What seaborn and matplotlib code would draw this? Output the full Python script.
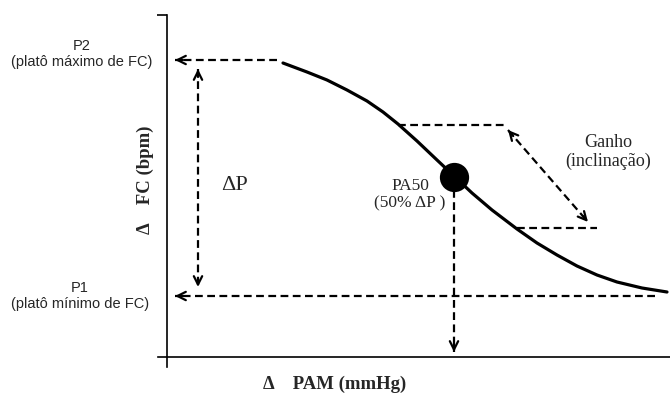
import matplotlib.pyplot as plt
import seaborn as sns

# baroreflex curve, arbitrary units (origin at the axes crossing)
pam = [116, 140, 160, 180, 200, 216, 231, 250, 270, 287, 305, 325, 350,
       370, 390, 410, 430, 450, 475, 500]
fc = [294, 285, 277, 267, 256, 245, 233, 216, 197, 181, 164, 147, 128,
      114, 102, 91, 82, 75, 69, 65]

p2_level = 297   # platô máximo
p1_level = 61    # platô mínimo
pa50 = (287, 180)

# ganho: top and bottom points of the slope
gain_top = (231, 232)
gain_bottom = (350, 129)

sns.set_style('white')
plt.rcParams['font.family'] = ['Liberation Sans', 'DejaVu Sans']

fig = plt.figure(figsize=(6.7, 3.93), dpi=100)
ax = fig.add_axes([0, 0, 1, 1])
ax.set_xlim(-167, 503)
ax.set_ylim(-36, 357)

# axes drawn as crossing lines
for side in ['top', 'right']:
    ax.spines[side].set_visible(False)
for side in ['left', 'bottom']:
    ax.spines[side].set_position(('data', 0))
    ax.spines[side].set_linewidth(1.2)
    ax.spines[side].set_color('black')
ax.spines['left'].set_bounds(-10, 342)
ax.spines['bottom'].set_bounds(-9, 503)
ax.set_xticks([])
ax.set_yticks([342])
ax.set_yticklabels([])
ax.tick_params(axis='y', direction='out', length=7, width=1.2, color='black', left=True)

sns.lineplot(x=pam, y=fc, sort=False, color='black', lw=2.3, ax=ax,
             solid_joinstyle='round', solid_capstyle='round')
sns.scatterplot(x=[pa50[0]], y=[pa50[1]], s=380, color='black', edgecolor='black', zorder=5, ax=ax)

dash = dict(color='black', lw=1.6, ls=(0, (3.5, 2)))


def arrowhead(tip, frm):
    dx, dy = frm[0] - tip[0], frm[1] - tip[1]
    d = (dx ** 2 + dy ** 2) ** 0.5
    back = (tip[0] + dx / d * 8, tip[1] + dy / d * 8)
    ax.annotate('', xy=tip, xytext=back,
                arrowprops=dict(arrowstyle='->', lw=1.6, color='black',
                                mutation_scale=15, shrinkA=0, shrinkB=0))


def dashed_arrow(start, end, both=False):
    ax.plot([start[0], end[0]], [start[1], end[1]], **dash)
    arrowhead(end, start)
    if both:
        arrowhead(start, end)


# plateaus
dashed_arrow((pam[0] - 6, p2_level), (8, p2_level))
dashed_arrow((488, p1_level), (8, p1_level))
# delta P
dashed_arrow((31, p2_level - 9), (31, p1_level + 9), both=True)
# PA50 drop
dashed_arrow((pa50[0], pa50[1] - 13), (pa50[0], 5))
# gain
ax.plot([gain_top[0], 338], [gain_top[1], gain_top[1]], **dash)
ax.plot([gain_bottom[0], 430], [gain_bottom[1], gain_bottom[1]], **dash)
dashed_arrow((341, 227), (421, 135), both=True)

sans = 10.5
ax.text(-85, 303, 'P2\n(platô máximo de FC)', ha='center', va='center',
        fontsize=sans, linespacing=1.15)
ax.text(-87, 61, 'P1\n(platô mínimo de FC)', ha='center', va='center',
        fontsize=sans, linespacing=1.15)

serif = ['Liberation Serif', 'DejaVu Serif']
ax.text(68, 172, 'ΔP', ha='center', va='center', fontsize=16, family=serif)
ax.text(243, 162, 'PA50\n(50% ΔP )', ha='center', va='center', fontsize=12.5,
        family=serif, linespacing=1.1)
ax.text(441, 205, 'Ganho\n(inclinação)', ha='center', va='center', fontsize=13,
        family=serif, linespacing=1.15)
ax.text(-22, 177, 'Δ    FC (bpm)', ha='center', va='center', rotation=90,
        fontsize=13.5, fontweight='bold', family=serif)
ax.text(168, -27, 'Δ    PAM (mmHg)', ha='center', va='center',
        fontsize=13.5, fontweight='bold', family=serif)

fig.savefig('out.png', dpi=100)
